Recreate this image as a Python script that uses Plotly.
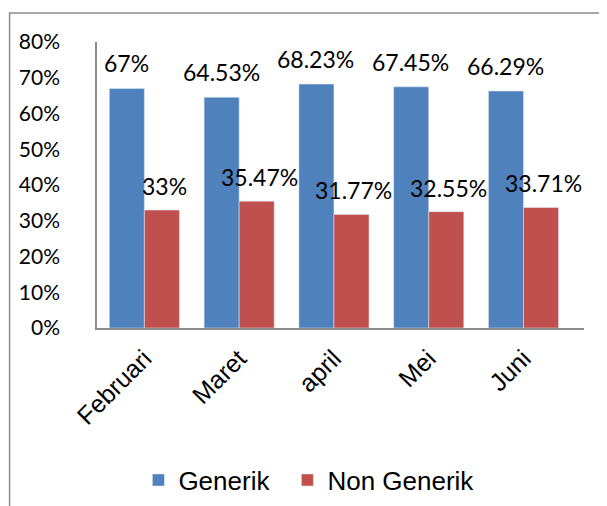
import plotly.graph_objects as go

months = ["Februari", "Maret", "april", "Mei", "Juni"]
generik = [0.67, 0.6453, 0.6823, 0.6745, 0.6629]
non_generik = [0.33, 0.3547, 0.3177, 0.3255, 0.3371]
generik_labels = ["67%", "64.53%", "68.23%", "67.45%", "66.29%"]
non_generik_labels = ["33%", "35.47%", "31.77%", "32.55%", "33.71%"]
y_ticks = [0, 0.1, 0.2, 0.3, 0.4, 0.5, 0.6, 0.7, 0.8]
y_tick_text = ["0%", "10%", "20%", "30%", "40%", "50%", "60%", "70%", "80%"]

BLUE = "#4F81BD"
RED = "#C0504D"

fig = go.Figure()
fig.add_trace(go.Bar(x=months, y=generik, name="Generik", marker_color=BLUE,
                     legendwidth=104))
fig.add_trace(go.Bar(x=months, y=non_generik, name="Non Generik", marker_color=RED))

label_font = dict(family="Lato", size=23, color="black")
annotations = []
for m, v, t in zip(months, generik, generik_labels):
    annotations.append(dict(x=m, y=v, text=t, showarrow=False, xshift=-18, yshift=25,
                            yanchor="middle", font=label_font))
for m, v, t in zip(months, non_generik, non_generik_labels):
    annotations.append(dict(x=m, y=v, text=t, showarrow=False, xshift=20, yshift=24,
                            yanchor="middle", font=label_font))

fig.update_layout(
    width=607, height=506,
    margin=dict(l=88.5, r=31, t=34, b=186.3, autoexpand=False),
    paper_bgcolor="white", plot_bgcolor="white",
    barmode="group", bargap=0.26, bargroupgap=0,
    showlegend=True,
    legend=dict(orientation="h", x=0.085, xanchor="left",
                yref="container", y=0.067, yanchor="middle",
                font=dict(family="Liberation Sans", size=26, color="black"),
                bgcolor="rgba(0,0,0,0)"),
    annotations=annotations,
    shapes=[dict(type="rect", xref="paper", yref="paper", x0=-0.1795, x1=1.15,
                 y0=-0.85, y1=1.1015, line=dict(color="#8c8c8c", width=1.5), layer="below")],
    xaxis=dict(showgrid=False, showline=True, linecolor="#8c8c8c", linewidth=2,
               ticks="outside", ticklen=4, tickcolor="rgba(0,0,0,0)", tickangle=-45,
               tickfont=dict(family="Liberation Sans", size=25, color="black"),
               zeroline=False, automargin=False),
    yaxis=dict(range=[0, 0.8], tickvals=y_ticks, ticktext=y_tick_text, showgrid=False,
               showline=True, linecolor="#8c8c8c", linewidth=1.5, zeroline=False,
               ticks="outside", ticklen=31, tickcolor="rgba(0,0,0,0)", automargin=False,
               tickfont=dict(family="Lato", size=21, color="black")),
)

fig.write_html("out.html")
